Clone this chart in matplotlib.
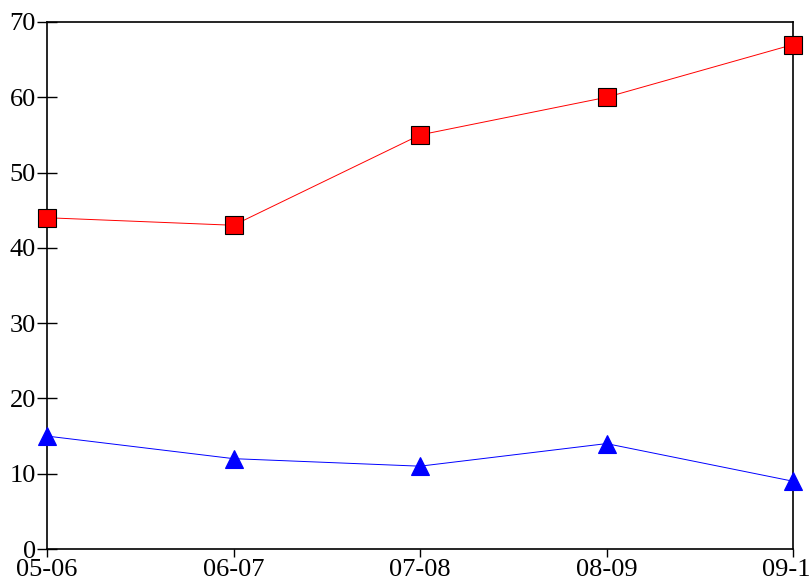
import matplotlib
matplotlib.use("Agg")
import matplotlib.pyplot as plt

categories = ["05-06", "06-07", "07-08", "08-09", "09-10"]
red_values = [44, 43, 55, 60, 67]
blue_values = [15, 12, 11, 14, 9]
y_ticks = [0, 10, 20, 30, 40, 50, 60, 70]

plt.rcParams['font.family'] = ['Liberation Serif', 'DejaVu Serif']

fig = plt.figure(figsize=(8.09, 5.81), dpi=100)
ax = fig.add_axes([47/809, 1-549/581, (793-47)/809, (549-22)/581])

x = list(range(len(categories)))
ax.plot(x, red_values, color='#ff0000', lw=0.7, marker='s', markersize=13,
        markerfacecolor='#ff0000', markeredgecolor='black', markeredgewidth=0.8,
        clip_on=False, zorder=3)
ax.plot(x, blue_values, color='#0000ff', lw=0.7, marker='^', markersize=13,
        markerfacecolor='#0000ff', markeredgecolor='#0000ff', markeredgewidth=0.8,
        clip_on=False, zorder=3)

ax.set_xlim(0, 4)
ax.set_ylim(0, 70)
ax.set_xticks(x)
ax.set_xticklabels(categories)
ax.set_yticks(y_ticks)
ax.tick_params(axis='y', direction='inout', length=14, width=1, labelsize=19, pad=1)
ax.tick_params(axis='x', direction='out', length=6, width=1, labelsize=19, pad=1)
for s in ax.spines.values():
    s.set_linewidth(1.2)

fig.savefig("out.png", dpi=100)
